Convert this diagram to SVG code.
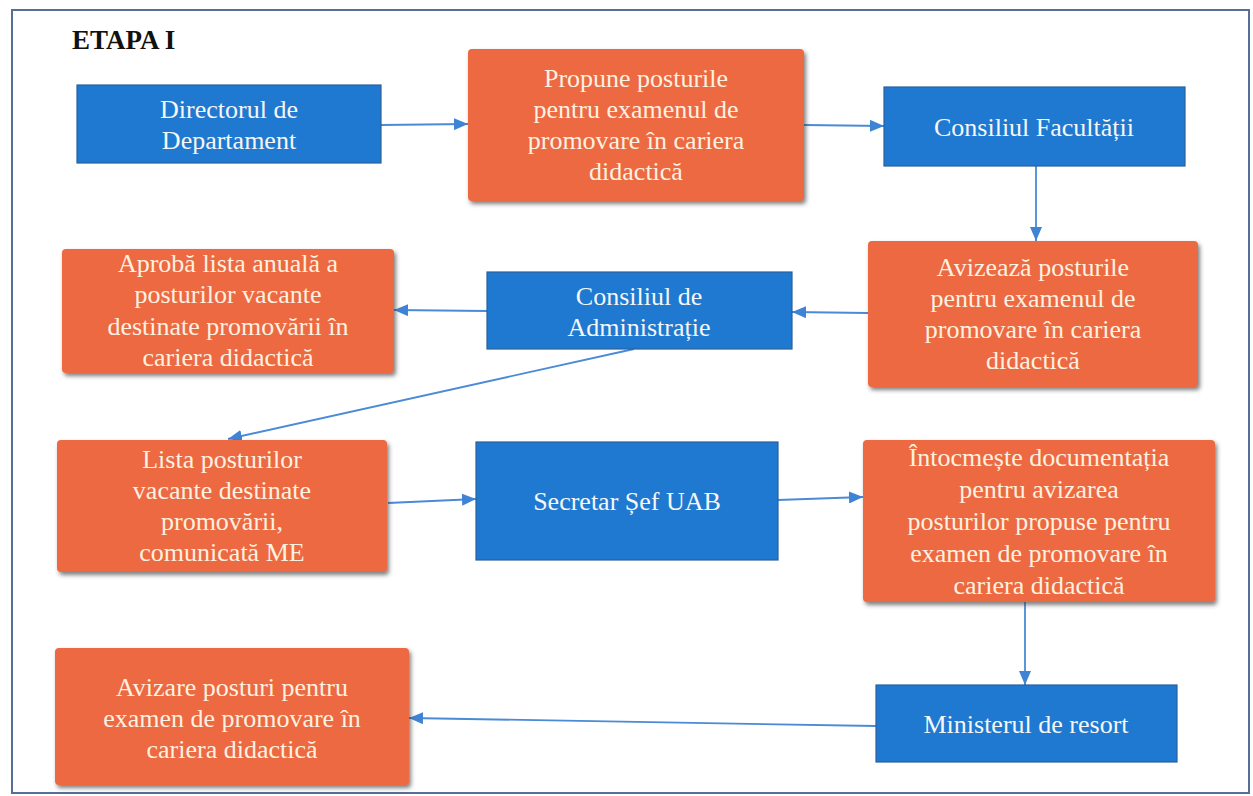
<svg xmlns="http://www.w3.org/2000/svg" width="1253" height="796" viewBox="0 0 1253 796">
<style>
.blue{fill:#1f79d0;stroke:#2b5f9c;stroke-width:1.2}
.orange{fill:#ec6943;filter:url(#sh)}
.t{font-family:"Liberation Serif","Times New Roman",serif;font-size:26px;text-anchor:middle}
.tb{fill:#f6f6f6}
.to{fill:#fdf1e0}
.c{fill:none;stroke:#4a8ad6;stroke-width:1.8;marker-end:url(#ah)}
.title{font-family:"Liberation Serif","Times New Roman",serif;font-size:27px;font-weight:bold;fill:#111}
</style>
<defs>
<filter id="sh" x="-10%" y="-10%" width="130%" height="130%">
<feDropShadow dx="2" dy="3" stdDeviation="2" flood-color="#3a3a3a" flood-opacity="0.65"/>
</filter>
<marker id="ah" viewBox="0 0 14 12" refX="14" refY="6" markerWidth="14" markerHeight="12" markerUnits="userSpaceOnUse" orient="auto">
<path d="M0,0 L14,6 L0,12 Z" fill="#3f83d4"/>
</marker>
</defs>
<rect x="0" y="0" width="1253" height="796" fill="#ffffff"/>
<rect x="12" y="10" width="1237" height="783" fill="none" stroke="#566f96" stroke-width="2"/>
<text class="title" x="72" y="49">ETAPA I</text>

<g id="connectors">
<path class="c" d="M381,125 L468,124"/>
<path class="c" d="M804,125 L884,126"/>
<path class="c" d="M1036,166 L1036,241"/>
<path class="c" d="M868,313 L792,312"/>
<path class="c" d="M487,311 L394,310"/>
<path class="c" d="M634,349 L228,439"/>
<path class="c" d="M388,503 L476,499"/>
<path class="c" d="M778,500 L863,497"/>
<path class="c" d="M1025,602 L1025,685"/>
<path class="c" d="M876,726 L409,718"/>
</g>

<g id="n1">
<rect class="blue" x="77" y="85" width="304" height="78"/>
<text class="t tb" x="229" y="118">Directorul de</text>
<text class="t tb" x="229" y="149">Departament</text>
</g>

<g id="n2">
<rect class="orange" x="468" y="49" width="336" height="152" rx="4"/>
<text class="t to" x="636" y="87">Propune posturile</text>
<text class="t to" x="636" y="118">pentru examenul de</text>
<text class="t to" x="636" y="149">promovare în cariera</text>
<text class="t to" x="636" y="180">didactică</text>
</g>

<g id="n3">
<rect class="blue" x="884" y="87" width="301" height="79"/>
<text class="t tb" x="1034" y="136">Consiliul Facultății</text>
</g>

<g id="n4">
<rect class="orange" x="868" y="241" width="330" height="146" rx="4"/>
<text class="t to" x="1033" y="276">Avizează posturile</text>
<text class="t to" x="1033" y="307">pentru examenul de</text>
<text class="t to" x="1033" y="338">promovare în cariera</text>
<text class="t to" x="1033" y="369">didactică</text>
</g>

<g id="n5">
<rect class="blue" x="487" y="272" width="305" height="77"/>
<text class="t tb" x="639" y="305">Consiliul de</text>
<text class="t tb" x="639" y="336">Administrație</text>
</g>

<g id="n6">
<rect class="orange" x="62" y="249" width="332" height="124" rx="4"/>
<text class="t to" x="228" y="272">Aprobă lista anuală a</text>
<text class="t to" x="228" y="303">posturilor vacante</text>
<text class="t to" x="228" y="335">destinate promovării în</text>
<text class="t to" x="228" y="366">cariera didactică</text>
</g>

<g id="n7">
<rect class="orange" x="57" y="440" width="330" height="132" rx="4"/>
<text class="t to" x="222" y="468">Lista posturilor</text>
<text class="t to" x="222" y="499">vacante destinate</text>
<text class="t to" x="222" y="530">promovării,</text>
<text class="t to" x="222" y="561">comunicată ME</text>
</g>

<g id="n8">
<rect class="blue" x="476" y="442" width="302" height="118"/>
<text class="t tb" x="627" y="510">Secretar Șef UAB</text>
</g>

<g id="n9">
<rect class="orange" x="863" y="440" width="352" height="162" rx="4"/>
<text class="t to" x="1039" y="466">Întocmește documentația</text>
<text class="t to" x="1039" y="498">pentru avizarea</text>
<text class="t to" x="1039" y="530">posturilor propuse pentru</text>
<text class="t to" x="1039" y="562">examen de promovare în</text>
<text class="t to" x="1039" y="594">cariera didactică</text>
</g>

<g id="n10">
<rect class="blue" x="876" y="685" width="301" height="77"/>
<text class="t tb" x="1026" y="733">Ministerul de resort</text>
</g>

<g id="n11">
<rect class="orange" x="55" y="648" width="354" height="137" rx="4"/>
<text class="t to" x="232" y="696">Avizare posturi pentru</text>
<text class="t to" x="232" y="727">examen de promovare în</text>
<text class="t to" x="232" y="758">cariera didactică</text>
</g>
</svg>
